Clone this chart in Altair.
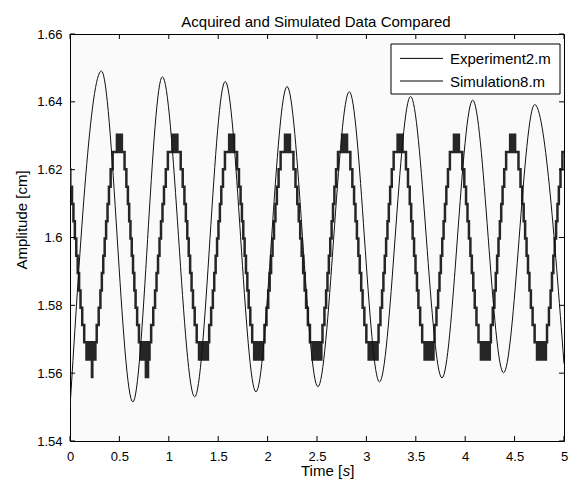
import altair as alt
import pandas as pd

# ---------------- data ----------------
# Simulation8.m : extrema (time [s], amplitude [cm])
sim_t = [0.0, 0.318, 0.636, 0.935, 1.262, 1.571, 1.882, 2.197, 2.509,
         2.827, 3.132, 3.447, 3.765, 4.076, 4.388, 4.703, 5.0]
sim_v = [1.5498, 1.6491, 1.5515, 1.6474, 1.5530, 1.6460, 1.5545, 1.6445, 1.5560,
         1.6430, 1.5574, 1.6416, 1.5586, 1.6405, 1.5601, 1.6392, 1.5628]

# Experiment2.m : quantised levels, extremum times, staircase profile
exp_levels = [1.5640, 1.5691, 1.5742, 1.5793, 1.5844, 1.5895, 1.5946, 1.5997,
              1.6048, 1.6099, 1.6150, 1.6201, 1.6252, 1.6303]
exp_trough_t = [0.207, 0.755, 1.346, 1.904, 2.494, 3.063, 3.629, 4.199, 4.767]
exp_peak_t = [-0.08, 0.495, 1.057, 1.631, 2.196, 2.774, 3.336, 3.906, 4.475, 5.045]
exp_step_frac = [0.22, 0.29, 0.35, 0.40, 0.45, 0.50, 0.55, 0.60, 0.65, 0.71, 0.78]
exp_spike_t = [0.222, 0.768, 0.786]
exp_spike_v = 1.5589

x_ticks = [0, 0.5, 1, 1.5, 2, 2.5, 3, 3.5, 4, 4.5, 5]
y_ticks = [1.54, 1.56, 1.58, 1.60, 1.62, 1.64, 1.66]
legend_labels = ["Experiment2.m", "Simulation8.m"]
title_text = "Acquired and Simulated Data Compared"
y_title = "Amplitude [cm]"
x_title_parts = ["Time [", "s", "]"]

# ---------------- build the staircase table ----------------
extrema = sorted([(t, "P") for t in exp_peak_t] + [(t, "T") for t in exp_trough_t])
events = []
for (t0, a), (t1, b) in zip(extrema[:-1], extrema[1:]):
    d = t1 - t0
    if a == "P":
        for i, f in enumerate(exp_step_frac):
            events.append((t0 + f * d, 11 - i))
    else:
        for k in range(2, 13):
            events.append((t1 - exp_step_frac[12 - k] * d, k))
for p in exp_peak_t:
    for j in range(-3, 4):
        events.append((p + 0.01 * j, 13 if j % 2 == 0 else 12))
for tr in exp_trough_t:
    for j in range(-5, 6):
        events.append((tr + 0.01 * j, 0 if j % 2 == 0 else 1))
for s in exp_spike_t:
    events.append((s, -1))
    events.append((s + 0.004, 0))
events.sort(key=lambda e: e[0])

def lvl(k):
    return exp_spike_v if k < 0 else exp_levels[k]

start_k = [k for t, k in events if t < 0][-1]
rows = [(0.0, lvl(start_k))]
last_k = start_k
for t, k in events:
    if 0 <= t <= 5:
        rows.append((t, lvl(k)))
        last_k = k
rows.append((5.0, lvl(last_k)))
exp_df = pd.DataFrame({"t": [r[0] for r in rows], "v": [r[1] for r in rows]})
exp_df["i"] = range(len(exp_df))

sim_df = pd.DataFrame({"t": sim_t, "v": sim_v})
sim_df["i"] = range(len(sim_df))

W, H = 494, 407
FONT = "Liberation Sans"

x_scale = alt.Scale(domain=[0, 5], nice=False, zero=False)
y_scale = alt.Scale(domain=[1.54, 1.66], nice=False, zero=False)

x_axis = alt.Axis(values=x_ticks, format="~g", title=None, domain=False, ticks=False,
                  grid=False, labelFont=FONT, labelFontSize=13, labelColor="black",
                  labelPadding=9, labelOverlap=False, labelFlush=False)
y_axis = alt.Axis(values=y_ticks, format=".2~f", title=None, domain=False, ticks=False,
                  grid=False, labelFont=FONT, labelFontSize=13, labelColor="black",
                  labelPadding=8, labelOverlap=False, labelFlush=False)

X = alt.X("t:Q", scale=x_scale, axis=x_axis)
Y = alt.Y("v:Q", scale=y_scale, axis=y_axis)

exp_line = alt.Chart(exp_df).mark_line(interpolate="step-after", color="#262626",
                                       strokeWidth=2.5, clip=True).encode(
    x=X, y=Y, order=alt.Order("i:Q"))
sim_line = alt.Chart(sim_df).mark_line(interpolate="monotone", color="#111111",
                                       strokeWidth=1, clip=True).encode(
    x=X, y=Y, order=alt.Order("i:Q"))

xt = pd.DataFrame({"t": x_ticks})
yt = pd.DataFrame({"v": y_ticks})
tick_bottom = alt.Chart(xt).mark_rule(color="black").encode(
    x=X, y=alt.value(H), y2=alt.value(H - 5))
tick_top = alt.Chart(xt).mark_rule(color="black").encode(
    x=X, y=alt.value(0), y2=alt.value(5))
tick_left = alt.Chart(yt).mark_rule(color="black").encode(
    y=Y, x=alt.value(0), x2=alt.value(5))
tick_right = alt.Chart(yt).mark_rule(color="black").encode(
    y=Y, x=alt.value(W), x2=alt.value(W - 5))

# titles as text marks
one = pd.DataFrame({"a": [0]})
title_mark = alt.Chart(pd.DataFrame({"label": [title_text]})).mark_text(
    align="center", baseline="alphabetic", font=FONT, fontSize=15, color="black").encode(
    text="label:N", x=alt.value(W / 2 - 1), y=alt.value(-7))
ytitle_mark = alt.Chart(pd.DataFrame({"label": [y_title]})).mark_text(
    align="center", baseline="middle", font=FONT, fontSize=15, color="black", angle=270).encode(
    text="label:N", x=alt.value(-48), y=alt.value(186))
xt_x = [231, 272.7, 280.2]
xt_style = ["normal", "italic", "normal"]
xtitle_marks = []
for part, px, st in zip(x_title_parts, xt_x, xt_style):
    xtitle_marks.append(alt.Chart(pd.DataFrame({"label": [part]})).mark_text(
        align="left", baseline="alphabetic", font=FONT, fontSize=15, fontStyle=st,
        color="black").encode(text="label:N", x=alt.value(px), y=alt.value(H + 35)))

# legend (manual, MATLAB style box)
leg_box = alt.Chart(one).mark_rect(
    fill="white", stroke="black", strokeWidth=1).encode(
    x=alt.value(321), x2=alt.value(490), y=alt.value(10), y2=alt.value(60))
leg_layers = [leg_box]
for i, lab in enumerate(legend_labels):
    yy = 24.4 + 22.6 * i
    ld = pd.DataFrame({"label": [lab]})
    leg_layers.append(alt.Chart(ld).mark_rule(color="black", strokeWidth=1).encode(
        x=alt.value(330), x2=alt.value(373), y=alt.value(yy)))
    leg_layers.append(alt.Chart(ld).mark_text(align="left", baseline="middle", font=FONT,
                                              fontSize=15, color="black").encode(
        text="label:N", x=alt.value(380), y=alt.value(yy + 0.5)))

chart = alt.layer(exp_line, sim_line, tick_bottom, tick_top, tick_left, tick_right,
                  title_mark, ytitle_mark, *xtitle_marks, *leg_layers).properties(
    width=W, height=H,
    autosize=alt.AutoSizeParams(type="none"),
    padding={"left": 62, "top": 26, "right": 4, "bottom": 38},
).configure_view(stroke="black", strokeWidth=1, fill="#fafafa")

chart.save("out.html", embed_options={"renderer": "svg", "actions": False})
